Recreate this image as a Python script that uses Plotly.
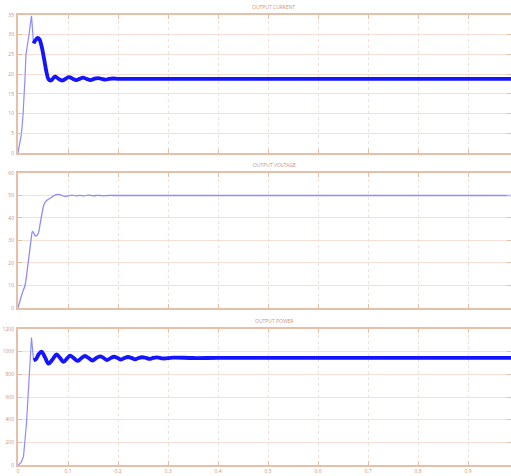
import plotly.graph_objects as go

# ---------------- data ----------------
# Output current (A)
cur_rise_t = [0, 0.004, 0.007, 0.010, 0.012, 0.014, 0.016, 0.019, 0.022, 0.025, 0.027, 0.031]
cur_rise_v = [0, 2.5, 5.0, 9.5, 13.0, 19.0, 25.0, 27.0, 30.0, 33.0, 34.8, 27.8]
cur_ss_t = [0.031, 0.035, 0.039, 0.043, 0.047, 0.052, 0.057, 0.061, 0.066, 0.070,
            0.074, 0.080, 0.085, 0.089, 0.095, 0.100, 0.104, 0.110, 0.117, 0.123,
            0.130, 0.137, 0.145, 0.152, 0.160, 0.167, 0.175, 0.182, 0.190, 0.200,
            0.220, 0.250, 0.300, 0.400, 0.500, 0.600, 0.700, 0.800, 0.900, 1.000]
cur_ss_v = [27.8, 28.6, 29.2, 28.8, 27.2, 24.0, 20.5, 18.7, 18.4, 18.9,
            19.4, 18.9, 18.5, 18.4, 18.8, 19.2, 19.2, 18.8, 18.5, 18.8,
            19.1, 18.8, 18.5, 18.8, 19.0, 18.8, 18.6, 18.8, 18.9, 18.8,
            18.8, 18.8, 18.8, 18.8, 18.8, 18.8, 18.8, 18.8, 18.8, 18.8]

# Output voltage (V)
volt_t = [0, 0.005, 0.010, 0.014, 0.018, 0.022, 0.026, 0.029, 0.032, 0.035,
          0.038, 0.041, 0.044, 0.048, 0.052, 0.056, 0.060, 0.065, 0.070, 0.075,
          0.081, 0.087, 0.093, 0.100, 0.108, 0.116, 0.124, 0.132, 0.140, 0.150,
          0.160, 0.170, 0.180, 0.200, 0.300, 0.400, 0.500, 0.600, 0.700, 0.800,
          0.900, 1.000]
volt_v = [0, 4.0, 7.5, 10.0, 16.0, 23.0, 30.0, 34.0, 33.0, 32.0,
          32.2, 33.5, 37.0, 42.0, 46.0, 47.5, 48.2, 48.9, 49.7, 50.3,
          50.5, 50.1, 49.6, 49.8, 50.2, 49.8, 50.1, 49.8, 50.2, 49.9,
          50.1, 49.9, 50.0, 50.0, 50.0, 50.0, 50.0, 50.0, 50.0, 50.0,
          50.0, 50.0]

# Output power (W)
pow_rise_t = [0, 0.006, 0.011, 0.014, 0.017, 0.020, 0.023, 0.026, 0.027, 0.031]
pow_rise_v = [0, 20, 75, 200, 370, 600, 850, 1075, 1125, 925]
pow_ss_t = [0.031, 0.036, 0.041, 0.047, 0.054, 0.061, 0.069, 0.077, 0.084, 0.091,
            0.098, 0.104, 0.111, 0.119, 0.126, 0.134, 0.141, 0.149, 0.156, 0.164,
            0.171, 0.178, 0.185, 0.192, 0.199, 0.206, 0.213, 0.220, 0.227, 0.234,
            0.241, 0.248, 0.256, 0.263, 0.270, 0.278, 0.290, 0.310, 0.350, 0.400,
            0.500, 0.600, 0.700, 0.800, 0.900, 1.000]
pow_ss_v = [925, 935, 975, 1000, 950, 895, 930, 975, 945, 910,
            940, 965, 945, 918, 940, 962, 945, 922, 942, 958,
            945, 926, 943, 955, 945, 930, 944, 953, 945, 933,
            944, 951, 945, 936, 945, 950, 940, 948, 944, 945,
            945, 945, 945, 945, 945, 945]

cur_ticks = [0, 5, 10, 15, 20, 25, 30, 35]
volt_ticks = [0, 10, 20, 30, 40, 50, 60]
pow_ticks = [0, 200, 400, 600, 800, 1000, 1200]
time_ticks = [0, 0.1, 0.2, 0.3, 0.4, 0.5, 0.6, 0.7, 0.8, 0.9, 1.0]
time_labels = ["0", "0.1", "0.2", "0.3", "0.4", "0.5", "0.6", "0.7", "0.8", "0.9", "1"]
titles = ["OUTPUT CURRENT", "OUTPUT VOLTAGE", "OUTPUT POWER"]

# ---------------- styles ----------------
THIN = "#8c8cff"
THICK = "#1414ff"
AXIS = "#e6bfa8"
GRID = "#f6e0d6"
VGRID = "#f5e0d8"
TXT = "#c9957a"

fig = go.Figure()
fig.add_trace(go.Scatter(x=cur_rise_t, y=cur_rise_v, mode="lines",
                         line=dict(color=THIN, width=1.2), xaxis="x", yaxis="y"))
fig.add_trace(go.Scatter(x=cur_ss_t, y=cur_ss_v, mode="lines", line_shape="spline",
                         line=dict(color=THICK, width=3.8), xaxis="x", yaxis="y"))
fig.add_trace(go.Scatter(x=volt_t, y=volt_v, mode="lines", line_shape="spline",
                         line=dict(color=THIN, width=1.3), xaxis="x2", yaxis="y2"))
fig.add_trace(go.Scatter(x=pow_rise_t, y=pow_rise_v, mode="lines",
                         line=dict(color=THIN, width=1.2), xaxis="x3", yaxis="y3"))
fig.add_trace(go.Scatter(x=pow_ss_t, y=pow_ss_v, mode="lines", line_shape="spline",
                         line=dict(color=THICK, width=3.8), xaxis="x3", yaxis="y3"))

xr = [0, 0.986]
common_x = dict(range=xr, tickvals=time_ticks, showgrid=True, gridcolor=VGRID,
                griddash="dot", gridwidth=1, showline=True, linecolor=AXIS,
                linewidth=2, mirror="ticks", ticks="inside", ticklen=4,
                tickcolor=AXIS, zeroline=False, automargin=False,
                tickfont=dict(size=5, color=TXT))
common_y = dict(showgrid=True, gridcolor=GRID, gridwidth=1, showline=True,
                linecolor=AXIS, linewidth=2, mirror="ticks", ticks="inside",
                ticklen=4, tickcolor=AXIS, zeroline=False, automargin=False,
                ticklabelstandoff=1,
                tickfont=dict(size=5, color=TXT))

domains = [[0.6933, 1.0], [0.3489, 0.6489], [0.0, 0.3022]]

fig.update_layout(
    width=511, height=476,
    margin=dict(l=18, r=0, t=15, b=11),
    paper_bgcolor="white", plot_bgcolor="white",
    showlegend=False,
    xaxis=dict(common_x, anchor="y", showticklabels=False),
    xaxis2=dict(common_x, anchor="y2", showticklabels=False),
    xaxis3=dict(common_x, anchor="y3", showticklabels=True,
                ticktext=time_labels, ticklabelstandoff=0),
    yaxis=dict(common_y, domain=domains[0], range=[0, 35], tickvals=cur_ticks),
    yaxis2=dict(common_y, domain=domains[1], range=[0, 60], tickvals=volt_ticks),
    yaxis3=dict(common_y, domain=domains[2], range=[0, 1200], tickvals=pow_ticks),
)

for title, dom in zip(titles, domains):
    fig.add_annotation(text=title, x=0.52, y=dom[1], xref="paper", yref="paper",
                       xanchor="center", yanchor="bottom", yshift=3,
                       showarrow=False, font=dict(size=5, color=TXT))

fig.write_html("out.html",
               config={"displayModeBar": False},
               post_script="document.body.style.margin='0';"
                           "document.body.style.padding='0';"
                           "document.body.style.overflow='hidden';")
